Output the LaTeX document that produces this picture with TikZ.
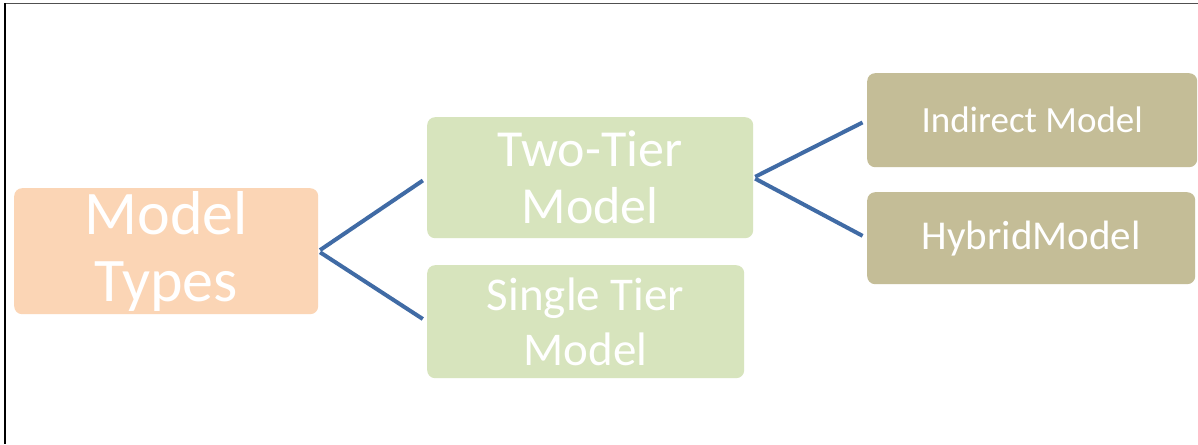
\documentclass[tikz,border=0pt]{standalone}
\usepackage{fontspec}
\setmainfont{Carlito}
\definecolor{peach}{HTML}{FBD5B5}
\definecolor{sage}{HTML}{D7E4BD}
\definecolor{tan}{HTML}{C4BD97}
\definecolor{conn}{HTML}{406BA5}
\definecolor{framegray}{HTML}{505050}
\tikzset{
  box/.style={rectangle, rounded corners=8pt, inner sep=0pt, anchor=north west,
    text=white, align=center},
  link/.style={draw=conn, line width=4pt, shorten >=5pt, shorten <=2pt}
}
\begin{document}
\begin{tikzpicture}[x=1pt,y=-1pt]
\useasboundingbox (0,0) rectangle (1198,444);
\fill[white] (0,0) rectangle (1198,444);
% frame
\draw[framegray, line width=1.6pt] (5,3.5) -- (1198,3.5);
\draw[black, line width=1.4pt] (5,3.5) -- (5,444);
% nodes
\node[box, fill=peach, minimum width=304pt, minimum height=126pt,
  font={\fontsize{62}{67}\selectfont}] (mt) at (14,188) {Model\\Types};
\node[box, fill=sage, minimum width=326pt, minimum height=121pt,
  font={\fontsize{52}{57}\selectfont}] (tt) at (427,117) {Two-Tier\\Model};
\node[box, fill=sage, minimum width=317pt, minimum height=113pt,
  font={\fontsize{47}{55}\selectfont}] (st) at (427,265) {Single Tier\\Model};
\node[box, fill=tan, minimum width=330pt, minimum height=94pt,
  font={\fontsize{37}{44}\selectfont}] (im) at (867,73) {Indirect Model};
\node[box, fill=tan, minimum width=328pt, minimum height=92pt,
  font={\fontsize{41}{48}\selectfont}] (hm) at (867,192) {HybridModel};
% connectors
\draw[link] (mt.east) -- (tt.west);
\draw[link] (mt.east) -- (st.west);
\draw[link] (tt.east) -- (im.west);
\draw[link] (tt.east) -- (hm.west);
\end{tikzpicture}
\end{document}
